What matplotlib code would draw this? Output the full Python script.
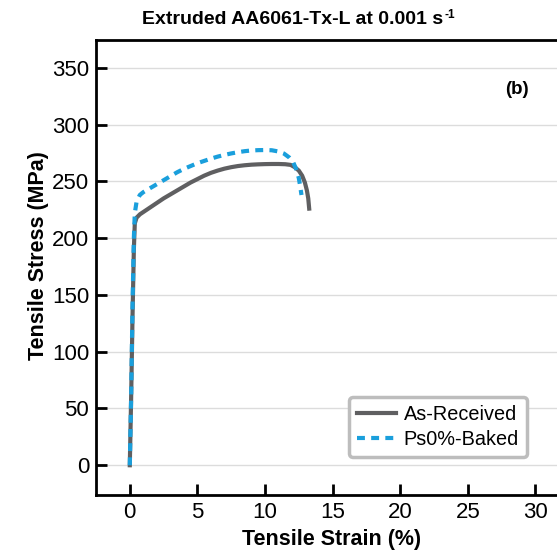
import matplotlib
matplotlib.use("Agg")
import matplotlib.pyplot as plt

plt.rcParams['font.family'] = ['Liberation Sans', 'DejaVu Sans']

# As-Received curve (strain %, stress MPa)
ar_strain = [0.0, 0.1, 0.2, 0.3, 0.37, 0.5, 0.75, 1.0, 1.5, 2.0, 2.5, 3.0, 3.5, 4.0, 4.5, 5.0, 5.5, 6.0,
             6.5, 7.0, 7.5, 8.0, 8.5, 9.0, 9.5, 10.0, 10.5, 11.0, 11.5, 11.9, 12.2, 12.5, 12.75, 12.95,
             13.1, 13.2, 13.27]
ar_stress = [0.0, 60.0, 130.0, 190.0, 213.0, 218.0, 221.0, 223.0, 227.0, 231.0, 235.0, 238.5, 242.0,
             245.5, 249.0, 252.0, 255.0, 257.5, 259.5, 261.2, 262.5, 263.5, 264.2, 264.7, 265.0, 265.2,
             265.3, 265.3, 265.1, 264.5, 262.5, 259.5, 255.0, 249.0, 242.0, 235.0, 226.0]

# Ps0%-Baked curve
pb_strain = [0.0, 0.1, 0.2, 0.3, 0.37, 0.5, 0.74, 1.0, 1.5, 2.0, 2.5, 3.0, 3.5, 4.0, 4.5, 5.0, 5.5, 6.0,
             6.5, 7.0, 7.5, 8.0, 8.5, 9.0, 9.5, 10.0, 10.5, 11.0, 11.4, 11.8, 12.08, 12.3, 12.5, 12.6, 12.7]
pb_stress = [0.0, 60.0, 140.0, 200.0, 222.0, 232.0, 238.0, 240.5, 244.0, 247.5, 251.0, 254.5, 258.0,
             261.0, 263.5, 266.0, 268.0, 270.0, 271.8, 273.3, 274.6, 275.7, 276.6, 277.2, 277.5, 277.6,
             277.4, 276.3, 274.5, 271.0, 267.0, 261.0, 253.0, 246.0, 238.0]

y_ticks = [0, 50, 100, 150, 200, 250, 300, 350]
x_ticks = [0, 5, 10, 15, 20, 25, 30]

fig = plt.figure(figsize=(5.57, 5.5), dpi=100)
W, H = 557, 550
ax = fig.add_axes([96 / W, 1 - 495 / H, (557 - 96) / W, (495 - 40) / H])

ax.plot(ar_strain, ar_stress, color='#5f5f61', lw=3.0, label='As-Received', zorder=3)
ax.plot(pb_strain, pb_stress, color='#1a9fdc', lw=3.0, ls=(0, (1.9, 1.5)), label='Ps0%-Baked', zorder=4)

ax.set_xlim(-2.5, 31.6)
ax.set_ylim(-26.2, 374.5)
ax.set_xticks(x_ticks)
ax.set_yticks(y_ticks)
ax.yaxis.grid(True, color='#dcdcdc', lw=1.0)
ax.set_axisbelow(True)

ax.tick_params(direction='in', length=8, width=2, labelsize=16, pad=5)
for side in ['left', 'bottom', 'top']:
    ax.spines[side].set_linewidth(2)
ax.spines['right'].set_visible(False)

ax.set_xlabel('Tensile Strain (%)', fontsize=15.5, fontweight='bold')
ax.xaxis.set_label_coords((332 - 96) / (557 - 96), -0.075)
ax.set_ylabel('Tensile Stress (MPa)', fontsize=15.5, fontweight='bold')
ax.yaxis.set_label_coords(-(96 - 49) / (557 - 96), (495 - 256) / 455)

t = fig.text(293 / W, 1 - 19 / H, 'Extruded AA6061-Tx-L at 0.001 s',
             ha='center', va='center', fontsize=14, fontweight='bold')
fig.canvas.draw()
bb = t.get_window_extent(fig.canvas.get_renderer())
fig.text(bb.x1 / W + 1 / W, (bb.y1 - 5) / H, '-1', ha='left', va='center', fontsize=8.5, fontweight='bold')

ax.text(517 / W, 1 - 89 / H, '(b)', transform=fig.transFigure, fontsize=13.5, fontweight='bold',
        ha='center', va='center')

leg = ax.legend(loc='lower right', bbox_to_anchor=((527 - 96) / 461, (495 - 457) / 455), fontsize=14.3,
                handlelength=1.95, handletextpad=0.4, borderpad=0.4, labelspacing=0.3,
                borderaxespad=0, frameon=True, fancybox=True, framealpha=1)
leg.get_frame().set_edgecolor('#bdbdbd')
leg.get_frame().set_linewidth(2.5)

fig.savefig('out.png', dpi=100)
